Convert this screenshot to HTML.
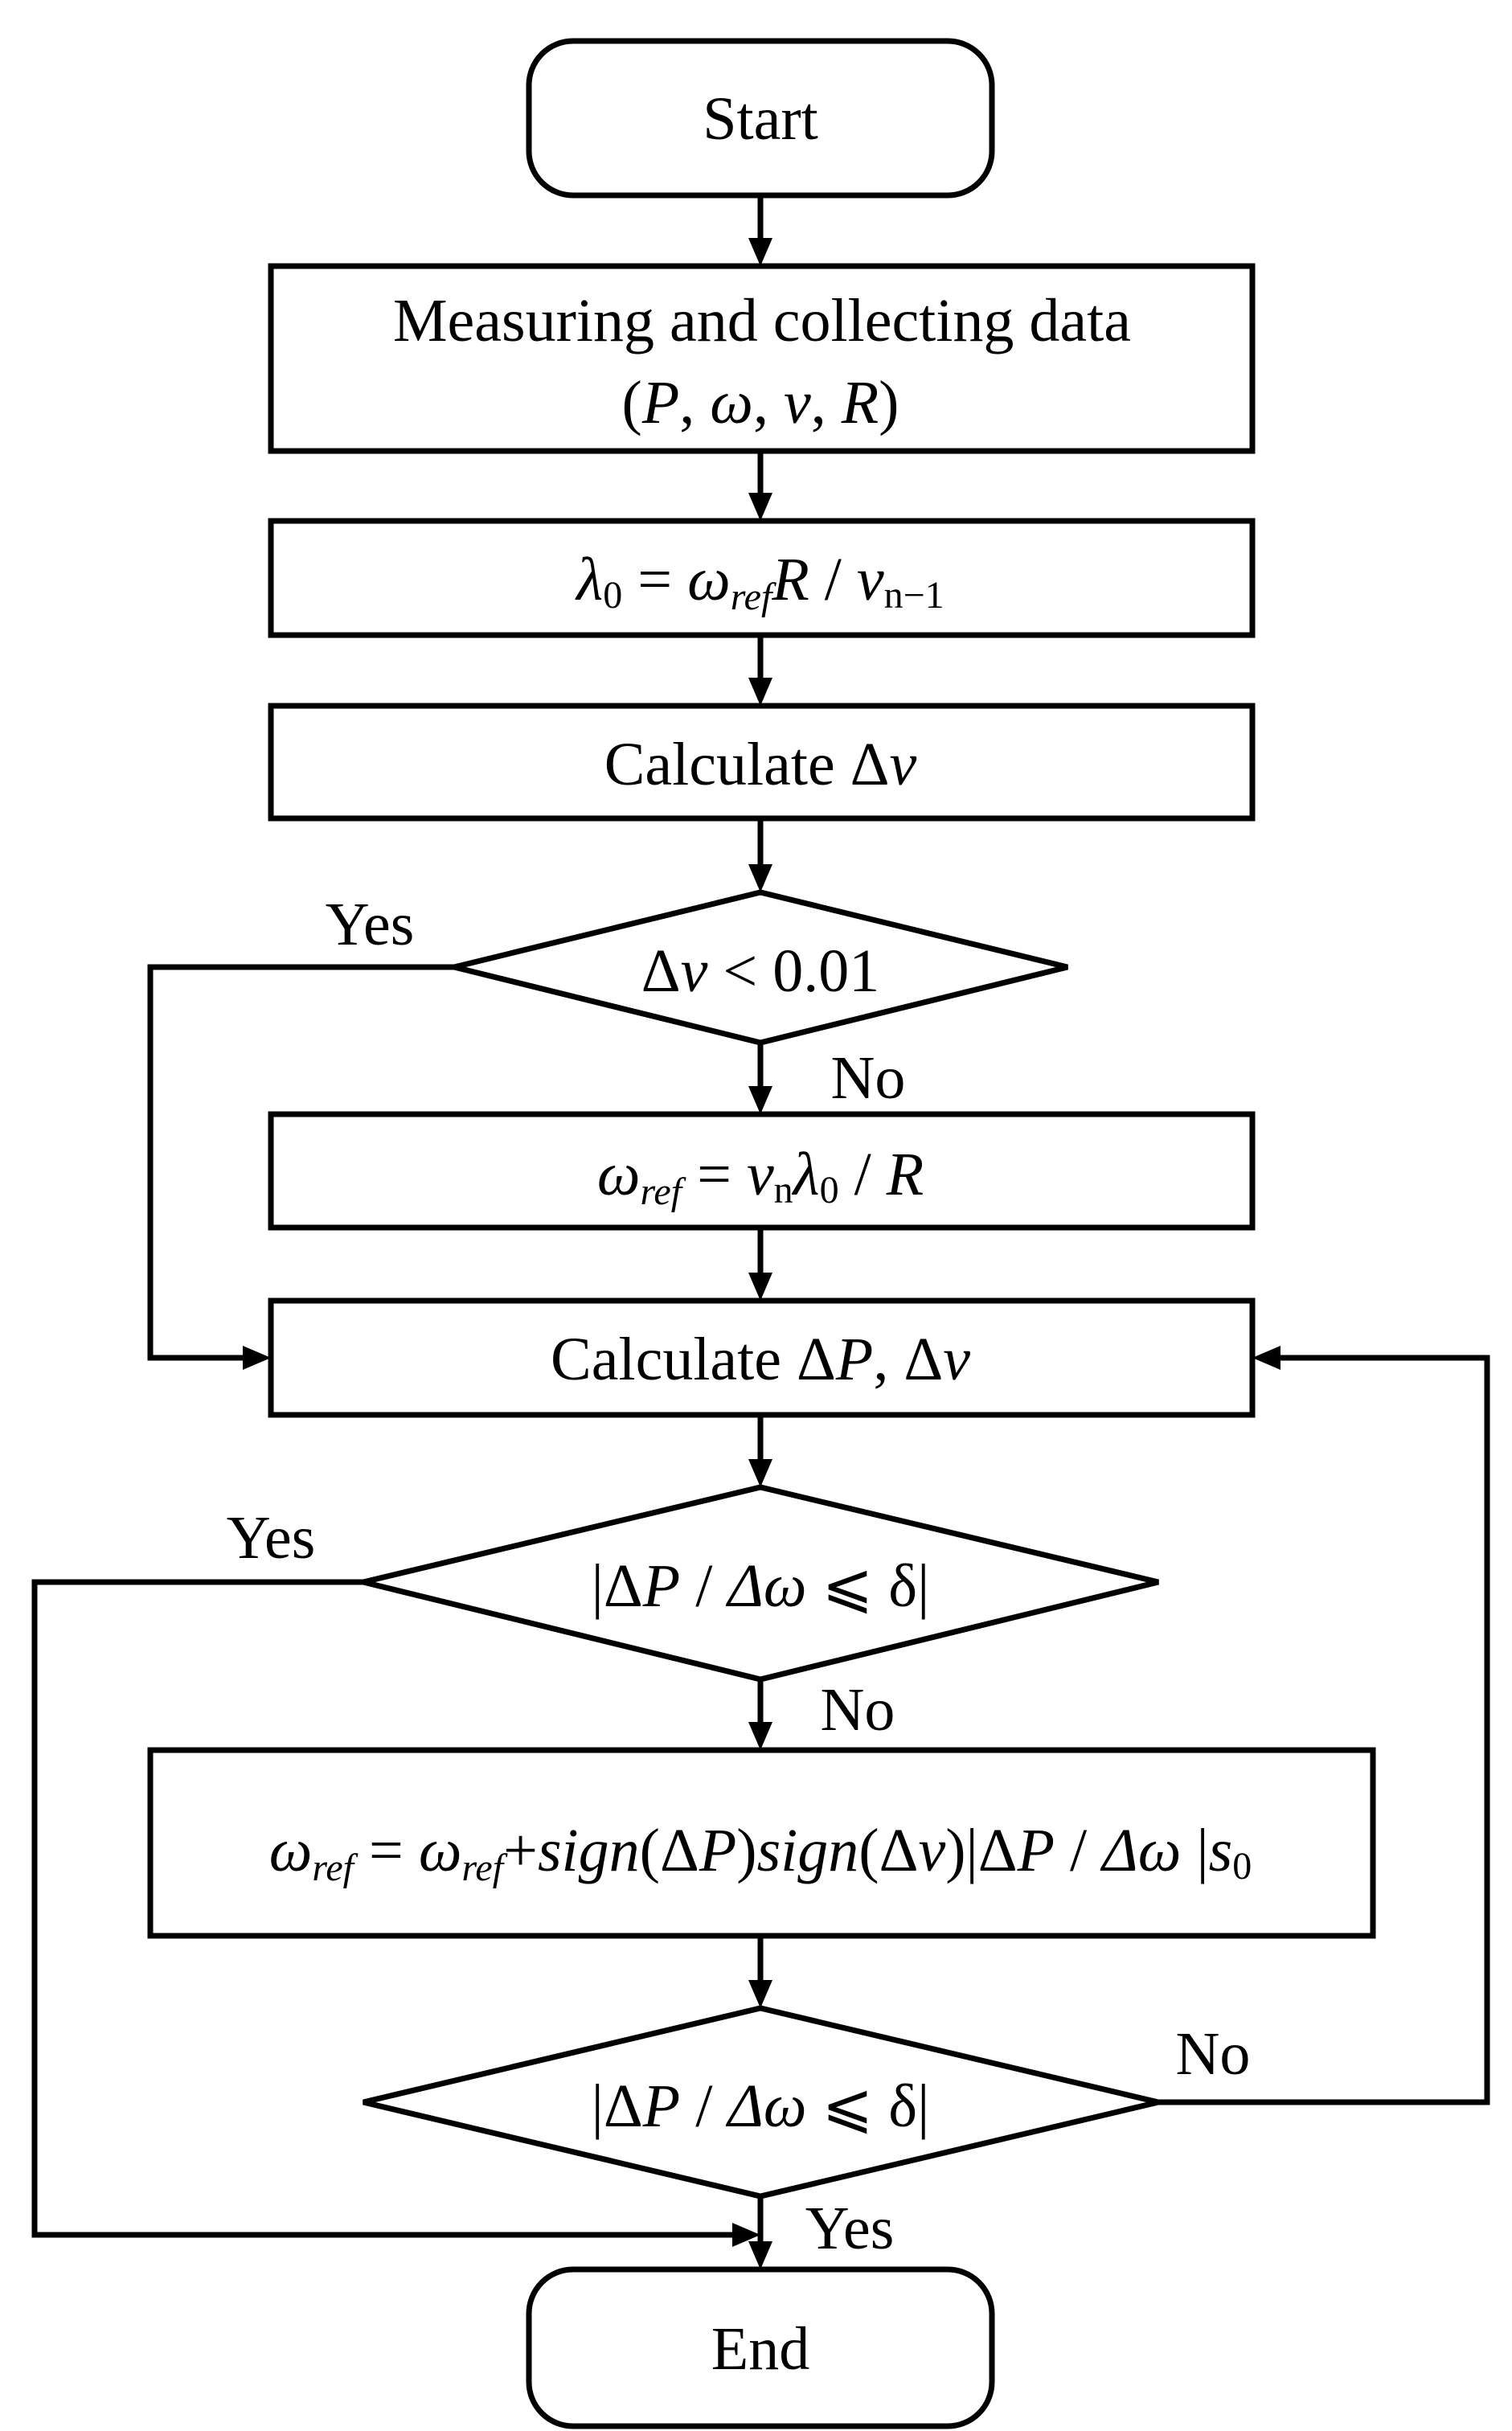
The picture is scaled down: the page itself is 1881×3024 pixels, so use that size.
<!DOCTYPE html>
<html><head><meta charset="utf-8"><style>
html,body{margin:0;padding:0;background:#fff}
svg{display:block}
text{font-family:"Liberation Serif",serif;font-size:76px;fill:#000}
.i{font-style:italic}
</style></head><body>
<svg width="1881" height="3024" viewBox="0 0 1881 3024" xmlns="http://www.w3.org/2000/svg">
<defs><marker id="a" markerWidth="10" markerHeight="10" refX="9" refY="5" orient="auto" markerUnits="userSpaceOnUse" viewBox="0 0 10 10"><path d="M0,0 L10,5 L0,10 z" fill="#000"/></marker></defs>
<g fill="none" stroke="#000" stroke-width="7">
<rect x="658" y="51" width="576" height="192" rx="55"/>
<rect x="337" y="331" width="1221" height="230"/>
<rect x="337" y="648" width="1221" height="142"/>
<rect x="337" y="878" width="1221" height="140"/>
<polygon points="565,1203 946,1110 1328,1203 946,1297"/>
<rect x="337" y="1386" width="1221" height="141"/>
<rect x="337" y="1618" width="1221" height="142"/>
<polygon points="452,1968 946,1850 1441,1968 946,2089"/>
<rect x="187" y="2177" width="1521" height="231"/>
<polygon points="452,2615 946,2498 1441,2615 946,2732"/>
<rect x="658" y="2823" width="576" height="195" rx="55"/>
</g>
<g stroke="#000" stroke-width="7" fill="none">
<line x1="946" y1="243" x2="946" y2="300"/>
<line x1="946" y1="561" x2="946" y2="617"/>
<line x1="946" y1="790" x2="946" y2="847"/>
<line x1="946" y1="1018" x2="946" y2="1080"/>
<line x1="946" y1="1297" x2="946" y2="1355"/>
<line x1="946" y1="1527" x2="946" y2="1587"/>
<line x1="946" y1="1760" x2="946" y2="1820"/>
<line x1="946" y1="2089" x2="946" y2="2146"/>
<line x1="946" y1="2408" x2="946" y2="2467"/>
<line x1="946" y1="2732" x2="946" y2="2792"/>
<polyline points="565,1203 187,1203 187,1689 306,1689"/>
<polyline points="452,1968 43,1968 43,2780 915,2780"/>
<polyline points="1441,2615 1850,2615 1850,1689 1589,1689"/>
</g>
<g fill="#000">
<path d="M931,296 L961,296 L946,331 z"/>
<path d="M931,613 L961,613 L946,648 z"/>
<path d="M931,843 L961,843 L946,878 z"/>
<path d="M931,1075 L961,1075 L946,1110 z"/>
<path d="M931,1351 L961,1351 L946,1386 z"/>
<path d="M931,1583 L961,1583 L946,1618 z"/>
<path d="M931,1815 L961,1815 L946,1850 z"/>
<path d="M931,2142 L961,2142 L946,2177 z"/>
<path d="M931,2463 L961,2463 L946,2498 z"/>
<path d="M931,2788 L961,2788 L946,2823 z"/>
<path d="M302,1674 L302,1704 L337,1689 z"/>
<path d="M1593,1674 L1593,1704 L1558,1689 z"/>
<path d="M911,2765 L911,2795 L946,2780 z"/>
</g>
<g text-anchor="middle">
<text x="946" y="173">Start</text>
<text x="948" y="424">Measuring and collecting data</text>
<text x="946" y="526">(<tspan class="i">P</tspan>, <tspan class="i">ω</tspan>, <tspan class="i">v</tspan>, <tspan class="i">R</tspan>)</text>
<text x="946" y="746"><tspan class="i">λ</tspan><tspan font-size="48" dy="10">0</tspan><tspan dy="-10"> = </tspan><tspan class="i">ω</tspan><tspan class="i" font-size="48" dy="12">ref</tspan><tspan class="i" dy="-12">R</tspan> / <tspan class="i">v</tspan><tspan font-size="48" dy="10">n−1</tspan></text>
<text x="946" y="976">Calculate Δ<tspan class="i">v</tspan></text>
<text x="946" y="1233">Δ<tspan class="i">v</tspan> &lt; 0.01</text>
<text x="946" y="1486"><tspan class="i">ω</tspan><tspan class="i" font-size="48" dy="12">ref</tspan><tspan dy="-12"> = </tspan><tspan class="i">v</tspan><tspan font-size="48" dy="10">n</tspan><tspan class="i" dy="-10">λ</tspan><tspan font-size="48" dy="10">0</tspan><tspan dy="-10"> / </tspan><tspan class="i">R</tspan></text>
<text x="946" y="1716">Calculate Δ<tspan class="i">P</tspan>, Δ<tspan class="i">v</tspan></text>
<text x="946" y="1998">|Δ<tspan class="i">P</tspan> / <tspan class="i">Δω</tspan> ⩽ δ|</text>
<text x="946" y="2327"><tspan class="i">ω</tspan><tspan class="i" font-size="48" dy="12">ref</tspan><tspan dy="-12"> = </tspan><tspan class="i">ω</tspan><tspan class="i" font-size="48" dy="12">ref</tspan><tspan dy="-12">+</tspan><tspan class="i">sign</tspan>(Δ<tspan class="i">P</tspan>)<tspan class="i">sign</tspan>(Δ<tspan class="i">v</tspan>)|Δ<tspan class="i">P</tspan> / <tspan class="i">Δω</tspan> |<tspan class="i">s</tspan><tspan font-size="48" dy="10">0</tspan></text>
<text x="946" y="2645">|Δ<tspan class="i">P</tspan> / <tspan class="i">Δω</tspan> ⩽ δ|</text>
<text x="946" y="2947">End</text>
<text x="460" y="1175">Yes</text>
<text x="1080" y="1366">No</text>
<text x="337" y="1938">Yes</text>
<text x="1067" y="2152">No</text>
<text x="1509" y="2580">No</text>
<text x="1057" y="2797">Yes</text>
</g>
</svg>
</body></html>
